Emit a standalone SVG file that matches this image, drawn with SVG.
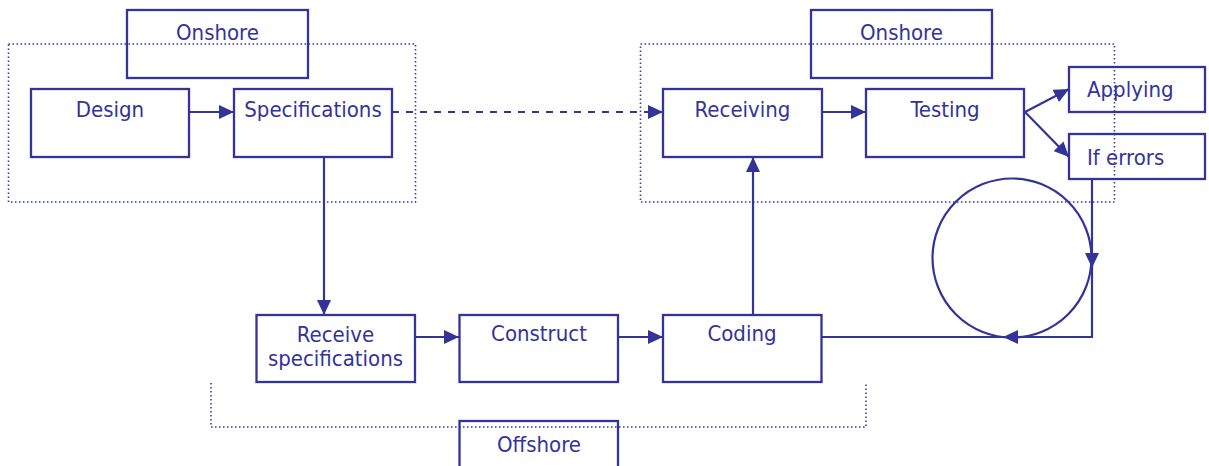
<svg xmlns="http://www.w3.org/2000/svg" width="1209" height="466" viewBox="0 0 1209 466">
<style>
.box{fill:none;stroke:#333399;stroke-width:2.3}
.region{fill:none;stroke:#3a3aa8;stroke-width:1.6;stroke-dasharray:1.6 2.4}
.t{font-family:"DejaVu Sans Condensed","DejaVu Sans",sans-serif;font-size:22px;fill:#333399;text-anchor:middle}
.tl{text-anchor:start}
.c{fill:none;stroke:#333399;stroke-width:2.2}
</style>
<defs>
<marker id="ah" markerUnits="userSpaceOnUse" markerWidth="15" markerHeight="14" refX="15" refY="7" orient="auto">
<path d="M0,0 L15,7 L0,14 z" fill="#333399"/>
</marker>
</defs>
<rect width="1209" height="466" fill="#fff"/>
<g id="regions">
<rect class="region" x="8.5" y="44" width="407" height="158"/>
<rect class="region" x="640.5" y="44" width="474" height="158"/>
<path class="region" d="M211,383 V427 H866 V383"/>
</g>
<g id="connectors">
<line class="c" x1="189" y1="112" x2="234" y2="112" marker-end="url(#ah)"/>
<line class="c" x1="392" y1="112" x2="663" y2="112" stroke-dasharray="7 7" marker-end="url(#ah)"/>
<line class="c" x1="324" y1="157" x2="324" y2="315" marker-end="url(#ah)"/>
<line class="c" x1="415" y1="337" x2="459" y2="337" marker-end="url(#ah)"/>
<line class="c" x1="618" y1="337" x2="663" y2="337" marker-end="url(#ah)"/>
<line class="c" x1="753" y1="315" x2="753" y2="157" marker-end="url(#ah)"/>
<line class="c" x1="822" y1="112" x2="866" y2="112" marker-end="url(#ah)"/>
<line class="c" x1="1025" y1="112" x2="1069" y2="89" marker-end="url(#ah)"/>
<line class="c" x1="1025" y1="112" x2="1069" y2="157" marker-end="url(#ah)"/>
<circle class="c" cx="1012" cy="258" r="79.5"/>
<path class="c" d="M1092,179 V268" marker-end="url(#ah)"/>
<path class="c" d="M1092,265 V337 H1003" marker-end="url(#ah)"/>
<line class="c" x1="822" y1="337" x2="1004" y2="337"/>
</g>
<g id="onshore-left"><rect class="box" x="127" y="10" width="181" height="68"/><text class="t" x="217.5" y="40">Onshore</text></g>
<g id="design"><rect class="box" x="31" y="89" width="158" height="68"/><text class="t" x="110" y="117">Design</text></g>
<g id="specifications"><rect class="box" x="234" y="89" width="158" height="68"/><text class="t" x="313" y="117">Specifications</text></g>
<g id="onshore-right"><rect class="box" x="811" y="10" width="181" height="68"/><text class="t" x="901.5" y="40">Onshore</text></g>
<g id="receiving"><rect class="box" x="663" y="89" width="159" height="68"/><text class="t" x="742.5" y="117">Receiving</text></g>
<g id="testing"><rect class="box" x="866" y="89" width="158" height="68"/><text class="t" x="945" y="117">Testing</text></g>
<g id="applying"><rect class="box" x="1069" y="67" width="136" height="45"/><text class="t tl" x="1087" y="97">Applying</text></g>
<g id="if-errors"><rect class="box" x="1069" y="134" width="136" height="45"/><text class="t tl" x="1087" y="165">If errors</text></g>
<g id="receive-specifications"><rect class="box" x="256.5" y="315" width="158.5" height="67"/><text class="t" x="335.5" y="342">Receive</text><text class="t" x="335.5" y="366">specifications</text></g>
<g id="construct"><rect class="box" x="459.5" y="315" width="158.5" height="67"/><text class="t" x="539" y="341">Construct</text></g>
<g id="coding"><rect class="box" x="663" y="315" width="158.5" height="67"/><text class="t" x="742" y="341">Coding</text></g>
<g id="offshore"><rect class="box" x="459.5" y="421" width="158.5" height="60"/><text class="t" x="539" y="452">Offshore</text></g>
</svg>
